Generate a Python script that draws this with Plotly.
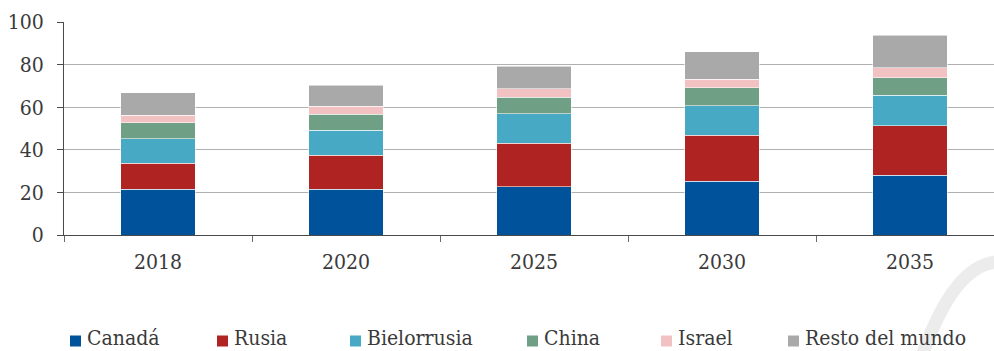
import plotly.graph_objects as go

# Stacked totals per year, by country
years = ["2018", "2020", "2025", "2030", "2035"]
series_names = ["Canadá", "Rusia", "Bielorrusia", "China", "Israel", "Resto del mundo"]
canada = [21.4, 21.4, 22.7, 25.2, 28.0]
rusia = [12.4, 16.0, 20.3, 21.6, 23.3]
bielorrusia = [11.4, 11.7, 13.9, 14.0, 14.4]
china = [7.5, 7.5, 7.7, 8.4, 8.2]
israel = [3.5, 3.8, 4.1, 4.0, 4.6]
resto = [10.5, 10.0, 10.6, 12.9, 15.2]
y_ticks = [0, 20, 40, 60, 80, 100]

values = [canada, rusia, bielorrusia, china, israel, resto]
colors = ["#00529b", "#b02323", "#48a9c5", "#6fa085", "#f2c2c3", "#a9a9a9"]

W, H = 994, 351
M_L, M_R, M_T, M_B = 64, 0, 22, 116
PLOT_W = W - M_L - M_R
PLOT_H = H - M_T - M_B
CAT_PX = 188  # pixels per category slot

FONT = "DejaVu Serif Condensed, DejaVu Serif"
TXT = "#3a3a3a"

xpos = list(range(len(years)))


def px_x(px):
    return (px - M_L) / PLOT_W


def px_y(py):
    return (M_T + PLOT_H - py) / PLOT_H


fig = go.Figure()
for name, vals, col in zip(series_names, values, colors):
    fig.add_trace(go.Bar(
        x=xpos, y=vals, name=name, width=0.394,
        marker=dict(color=col, line=dict(color="rgba(255,255,255,0.55)", width=1)),
        showlegend=False,
    ))

fig.update_layout(
    width=W, height=H,
    margin=dict(l=M_L, r=M_R, t=M_T, b=M_B, pad=0),
    barmode="stack",
    paper_bgcolor="white", plot_bgcolor="white",
    font=dict(family=FONT, size=21, color=TXT),
)

fig.update_xaxes(
    range=[-0.5, -0.5 + PLOT_W / CAT_PX],
    tickvals=xpos, ticktext=years,
    ticks="", showgrid=False,
    showline=True, linecolor="#4a4a4a", linewidth=1,
    tickfont=dict(family=FONT, size=21, color=TXT),
    ticklabelstandoff=8,
    minor=dict(ticks="outside", tick0=0.5, dtick=1, ticklen=6,
               tickcolor="#6a6a6a", tickwidth=1, showgrid=False),
    zeroline=False,
)
fig.update_yaxes(
    range=[0, 100], tickvals=y_ticks,
    ticks="outside", ticklen=6, tickcolor="#4a4a4a", tickwidth=1,
    showline=True, linecolor="#4a4a4a", linewidth=1,
    showgrid=True, gridcolor="#b0b0b0", gridwidth=1,
    zeroline=False,
    tickfont=dict(family=FONT, size=21, color=TXT),
    ticklabelstandoff=9,
)

# Faint logo stroke in the lower-right corner
p0 = (px_x(922), px_y(356))
pc = (px_x(955), px_y(262))
p1 = (px_x(1000), px_y(262))
fig.add_shape(
    type="path", xref="paper", yref="paper", layer="below",
    path=f"M {p0[0]},{p0[1]} Q {pc[0]},{pc[1]} {p1[0]},{p1[1]}",
    line=dict(color="#ececec", width=13),
)

# Legend drawn as swatches + labels along the bottom
legend_px = [70, 217, 350, 527, 661, 788]
LEG_Y = 338
SW = 11

for name, col, lx in zip(series_names, colors, legend_px):
    fig.add_shape(
        type="rect", xref="paper", yref="paper",
        x0=px_x(lx), x1=px_x(lx + SW),
        y0=px_y(LEG_Y + 3 + SW / 2), y1=px_y(LEG_Y + 3 - SW / 2),
        fillcolor=col, line=dict(width=0),
    )
    fig.add_annotation(
        xref="paper", yref="paper",
        x=px_x(lx + SW + 5), y=px_y(LEG_Y),
        xanchor="left", yanchor="middle",
        text=name, showarrow=False, borderpad=0,
        font=dict(family=FONT, size=21, color=TXT),
    )

fig.write_html("out.html")
